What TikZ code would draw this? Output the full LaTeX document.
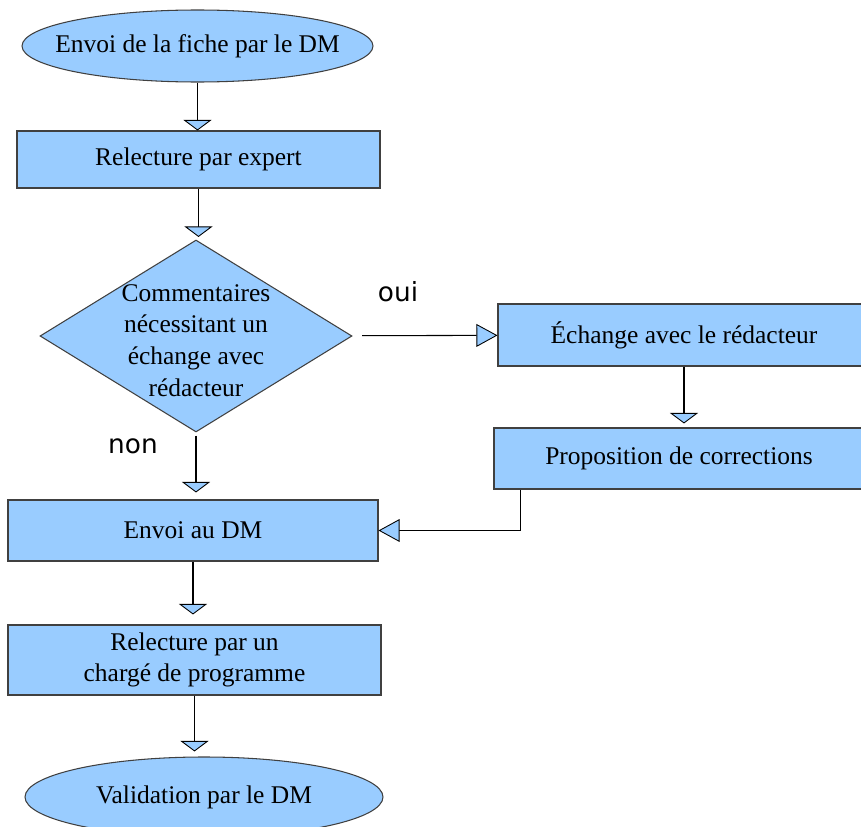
\documentclass[tikz,border=0pt]{standalone}
\usepackage{fontspec}
\setmainfont{Liberation Serif}
\newfontfamily\labelfont{DejaVu Sans}
\usepackage[dvipsnames]{xcolor}
\definecolor{colorBox}{HTML}{99CCFF}
\colorlet{colorEdge}{black!75}
\usepackage{tikz}
\usetikzlibrary{arrows.meta, shapes.geometric, positioning}
\tikzset{flowtip/.tip={Triangle[width=16pt, length=6pt, fill=colorBox, line width=0.5pt]}}
\tikzset{sidetip/.tip={Triangle[width=13pt, length=12pt, fill=colorBox, line width=0.5pt]}}

\begin{document}
\begin{tikzpicture}[line width=0.6pt, font=\fontsize{14.5}{18}\selectfont,
  terminal/.style={ellipse, draw=colorEdge, fill=colorBox, inner sep=0pt},
  process/.style={rectangle, draw=colorEdge, fill=colorBox, inner sep=0pt, align=center},
  decision/.style={diamond, draw=colorEdge, fill=colorBox, inner sep=0pt},
  flow/.style={-flowtip},
  sideflow/.style={-sidetip}]
\useasboundingbox (0,0) rectangle (17.22,-16.54);
\clip (0,0) rectangle (17.22,-16.54);
\node[terminal, minimum width=7.02cm, minimum height=1.44cm] (start) at (3.95,-0.92) {};
\node (starttext) at (start) {Envoi de la fiche par le DM};
\node[process, minimum width=7.26cm, minimum height=1.14cm] (expert) at (3.97,-3.19) {Relecture par expert};
\node[decision, minimum width=6.24cm, minimum height=3.84cm] (decide) at (3.92,-6.72) {};
\node[align=center] (decidetext) at (3.92,-6.81) {Commentaires\\nécessitant un\\échange avec\\rédacteur};
\node[process, minimum width=7.44cm, minimum height=1.24cm] (exchange) at (13.68,-6.70) {Échange avec le rédacteur};
\node[process, minimum width=7.40cm, minimum height=1.22cm] (proposal) at (13.58,-9.17) {Proposition de corrections};
\node[process, minimum width=7.40cm, minimum height=1.22cm] (sendback) at (3.86,-10.61) {Envoi au DM};
\node[process, minimum width=7.46cm, minimum height=1.40cm] (review) at (3.89,-13.20) {Relecture par un\\chargé de programme};
\node[terminal, minimum width=7.16cm, minimum height=1.60cm] (validate) at (4.08,-15.94) {};
\node (validatetext) at (validate) {Validation par le DM};
\node[font=\labelfont\fontsize{15}{18}\selectfont] (yes) at (7.96,-5.84) {oui};
\node[font=\labelfont\fontsize{15}{18}\selectfont] (no) at (2.66,-8.92) {non};
% connectors
\draw[flow, black] (start) -- (start |- expert.north);
\draw[flow, black, shorten >=0.05cm] (expert) -- (expert |- decide.north);
\draw[sideflow, black, shorten <=0.2cm] (decide) -- (exchange);
\draw[flow, black, shorten >=0.08cm] (exchange) -- (exchange |- proposal.north);
\draw[sideflow, black] ([xshift=0.54cm]proposal.south west) |- (sendback.east);
\draw[flow, black, shorten <=0.06cm, shorten >=0.14cm] (decide) -- (decide |- sendback.north);
\draw[flow, black, shorten >=0.2cm] (sendback) -- (sendback |- review.north);
\draw[flow, black, shorten >=0.1cm] (review) -- (review |- validate.north);
\end{tikzpicture}
\end{document}
